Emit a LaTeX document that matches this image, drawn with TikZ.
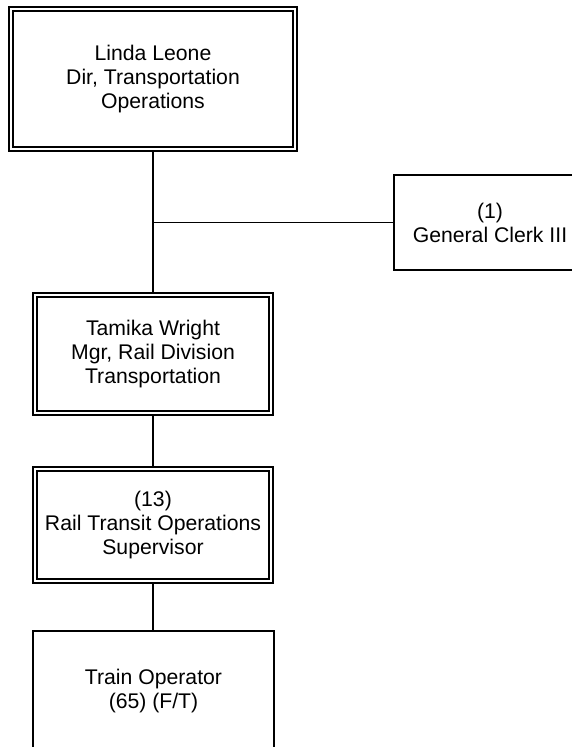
\documentclass[tikz,border=0pt]{standalone}
\usepackage{fontspec}
\setmainfont{Liberation Sans}
\begin{document}
\begin{tikzpicture}[x=1pt,y=-1pt,
  box/.style={draw,rectangle,line width=1.8pt,inner sep=0pt,align=center,
    font=\fontsize{21.2}{24}\selectfont},
  dbox/.style={box,double,double distance=2.2pt,outer sep=2.9pt},
  conn/.style={line width=1.8pt}]
\useasboundingbox (0,0) rectangle (572,747);
\clip (0,0) rectangle (572,747);
\node[dbox,minimum width=284pt,minimum height=140pt] (dir) at (153,79)
  {Linda Leone\\Dir, Transportation\\Operations};
\node[box,minimum width=192pt,minimum height=95pt] (clerk) at (490,222.5)
  {(1)\\General Clerk III};
\node[dbox,minimum width=236pt,minimum height=118pt] (mgr) at (153,354)
  {Tamika Wright\\Mgr, Rail Division\\Transportation};
\node[dbox,minimum width=236pt,minimum height=112pt] (sup) at (153,525)
  {(13)\\Rail Transit Operations\\Supervisor};
\node[box,minimum width=241pt,minimum height=120pt] (op) at (153.5,691)
  {Train Operator\\(65) (F/T)};
\coordinate (j) at (153,222.5);
\draw[conn] (dir.south) -- (mgr.north);
\draw[conn] (j) -- (clerk.west);
\draw[conn] (mgr.south) -- (sup.north);
\draw[conn] (sup.south) -- (op.north -| sup.south);
\end{tikzpicture}
\end{document}
